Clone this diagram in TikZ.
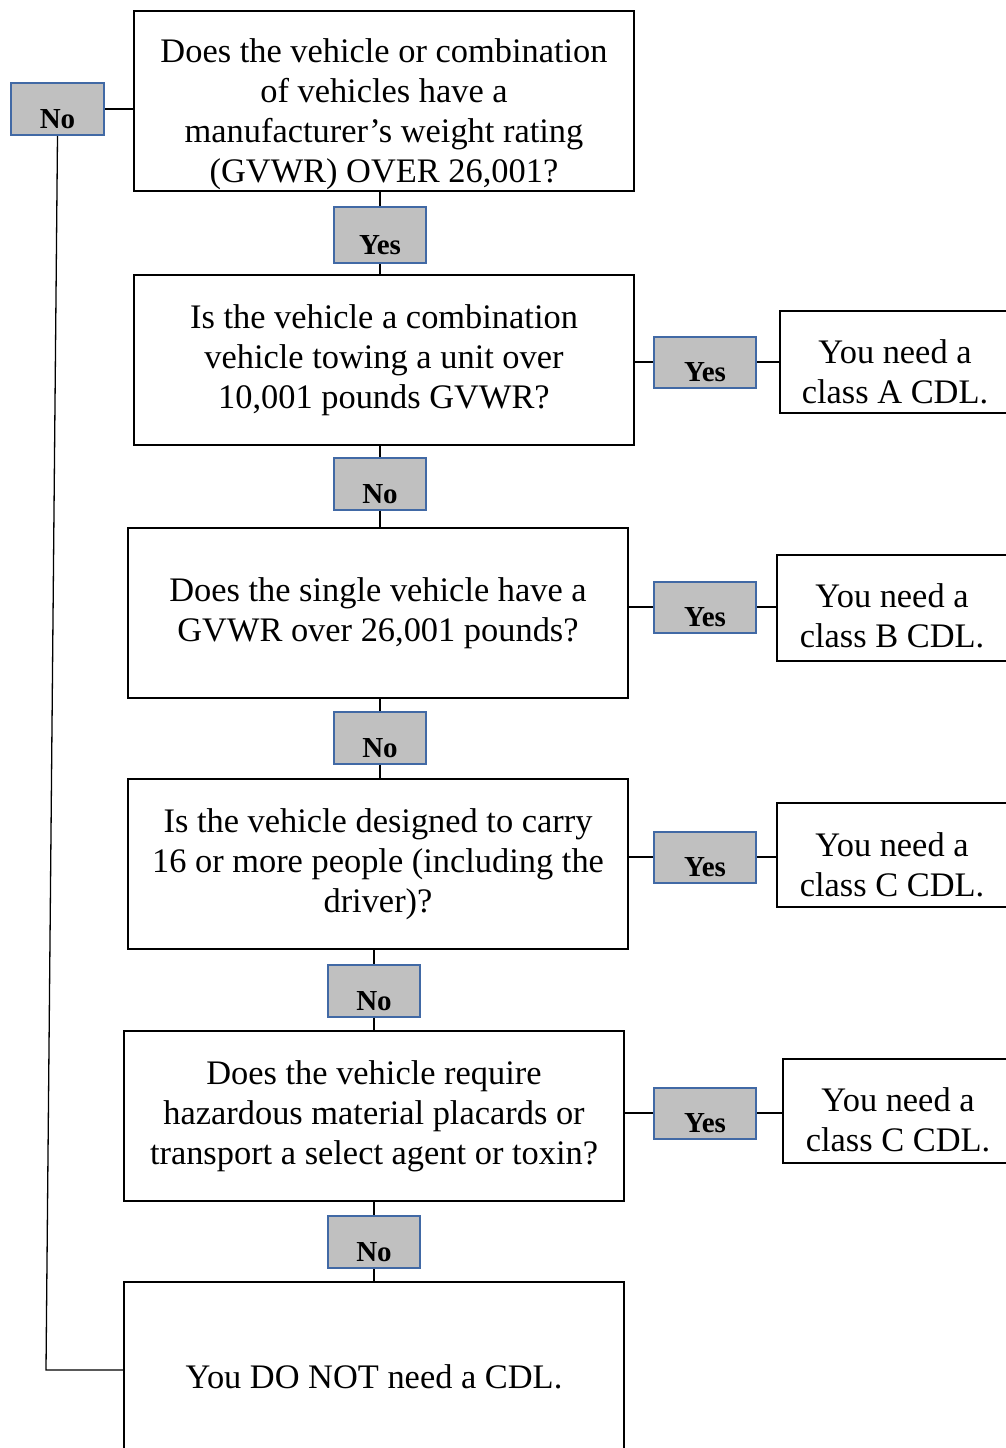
\documentclass[tikz,border=0pt]{standalone}
\usepackage{fontspec}
\setmainfont{Liberation Serif}
\definecolor{tagfill}{RGB}{192,192,192}
\definecolor{tagline}{RGB}{65,105,165}
\tikzset{
  question/.style={draw, line width=2pt, minimum width=500pt, minimum height=170pt,
    align=center, inner sep=0pt, font=\fontsize{34.4}{40}\selectfont},
  outcome/.style={draw, line width=2pt, minimum width=230pt, minimum height=104pt,
    align=center, inner sep=0pt, font=\fontsize{34.4}{40}\selectfont},
  lower/.style={execute at begin node={\rule{0pt}{#1}}},
  tag/.style={draw=tagline, fill=tagfill, line width=2pt, minimum height=52pt,
    inner sep=0pt, text height=45pt, text depth=6pt,
    font=\bfseries\fontsize{29}{30}\selectfont},
  link/.style={line width=1.3pt}
}
\begin{document}
\begin{tikzpicture}[x=1pt,y=-1pt]
  \useasboundingbox (0,0) rectangle (1006,1448);
  % questions
  \node[question, minimum height=180pt, lower=170pt] (q1) at (384,101)
    {Does the vehicle or combination\\of vehicles have a\\manufacturer’s weight rating\\(GVWR) OVER 26,001?};
  \node[question] (q2) at (384,360)
    {Is the vehicle a combination\\vehicle towing a unit over\\10,001 pounds GVWR?};
  \node[question] (q3) at (378,613)
    {Does the single vehicle have a\\GVWR over 26,001 pounds?};
  \node[question] (q4) at (378,864)
    {Is the vehicle designed to carry\\16 or more people (including the\\driver)?};
  \node[question] (q5) at (374,1116)
    {Does the vehicle require\\hazardous material placards or\\transport a select agent or toxin?};
  \node[question, minimum height=190pt] (fin) at (374,1377) {You DO NOT need a CDL.};
  % outcomes
  \node[outcome, minimum height=102pt, lower=84pt] (clsA) at (895,362) {You need a\\class A CDL.};
  \node[outcome, minimum height=106pt, lower=80pt] (clsB) at (892,608) {You need a\\class B CDL.};
  \node[outcome, lower=84pt] (clsC) at (892,855) {You need a\\class C CDL.};
  \node[outcome, lower=82pt] (clsD) at (898,1111) {You need a\\class C CDL.};
  % answer tags
  \node[tag, minimum width=93pt] (noL) at (57.5,109) {No};
  \node[tag, minimum width=92pt, minimum height=56pt] (yes1) at (380,235) {Yes};
  \node[tag, minimum width=92pt] (no2) at (380,483.5) {No};
  \node[tag, minimum width=92pt] (no3) at (380,737.5) {No};
  \node[tag, minimum width=92pt] (no4) at (374,990.5) {No};
  \node[tag, minimum width=92pt] (no5) at (374,1242) {No};
  \node[tag, minimum width=102pt, minimum height=50pt] (yes2) at (705,362) {Yes};
  \node[tag, minimum width=102pt, minimum height=50pt] (yes3) at (705,607) {Yes};
  \node[tag, minimum width=102pt, minimum height=50pt] (yes4) at (705,857) {Yes};
  \node[tag, minimum width=102pt, minimum height=50pt] (yes5) at (705,1113) {Yes};
  \coordinate (bend) at (46,1370);
  % links down
  \draw[link] (yes1.north) -- (yes1.north |- q1.south);
  \draw[link] (yes1.south) -- (yes1.south |- q2.north);
  \draw[link] (no2.north) -- (no2.north |- q2.south);
  \draw[link] (no2.south) -- (no2.south |- q3.north);
  \draw[link] (no3.north) -- (no3.north |- q3.south);
  \draw[link] (no3.south) -- (no3.south |- q4.north);
  \draw[link] (no4.north) -- (no4.north |- q4.south);
  \draw[link] (no4.south) -- (no4.south |- q5.north);
  \draw[link] (no5.north) -- (no5.north |- q5.south);
  \draw[link] (no5.south) -- (no5.south |- fin.north);
  % links right
  \draw[link] (yes2.west) -- (yes2.west -| q2.east);
  \draw[link] (yes2.east) -- (yes2.east -| clsA.west);
  \draw[link] (yes3.west) -- (yes3.west -| q3.east);
  \draw[link] (yes3.east) -- (yes3.east -| clsB.west);
  \draw[link] (yes4.west) -- (yes4.west -| q4.east);
  \draw[link] (yes4.east) -- (yes4.east -| clsC.west);
  \draw[link] (yes5.west) -- (yes5.west -| q5.east);
  \draw[link] (yes5.east) -- (yes5.east -| clsD.west);
  % no at the top
  \draw[link] (noL.east) -- (noL.east -| q1.west);
  \draw[link] (noL.south) -- (bend) -- (bend -| fin.west);
\end{tikzpicture}
\end{document}
